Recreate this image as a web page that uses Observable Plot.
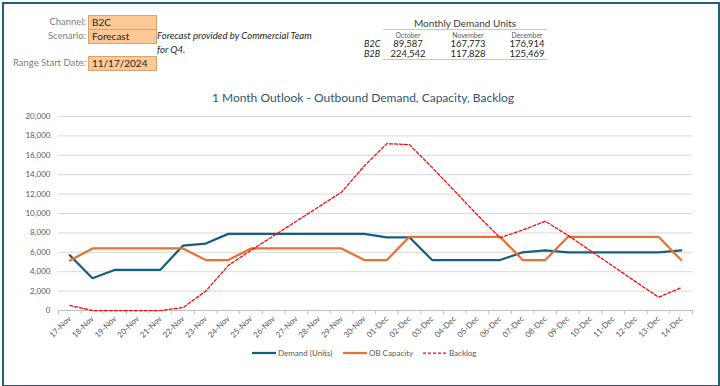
<!DOCTYPE html>
<html><head><meta charset="utf-8">
<script src="https://cdn.jsdelivr.net/npm/d3@7"></script>
<script src="https://cdn.jsdelivr.net/npm/@observablehq/plot@0.6"></script>
<style>
body{margin:0;background:#fff;}
#wrap{position:relative;width:720px;height:386px;overflow:hidden;font-family:"Lato",sans-serif;}
.abs{position:absolute;white-space:nowrap;}
#frame{position:absolute;left:2px;top:2px;width:714px;height:381px;border:2px solid #1f5f7a;box-sizing:content-box;}
#chart{position:absolute;left:0;top:110px;}
</style></head><body><div id="wrap"><div id="frame"></div></div>
<script>
// ---- data ----
const fieldLabels = ["Channel:", "Scenario:", "Range Start Date:"];
const fieldValues = ["B2C", "Forecast", "11/17/2024"];
const note = ["Forecast provided by Commercial Team", "for Q4."];
const tableTitle = "Monthly Demand Units";
const months = ["October", "November", "December"];
const channels = ["B2C", "B2B"];
const b2cMonthly = [89587, 167773, 176914];
const b2bMonthly = [224542, 117828, 125469];
const chartTitle = "1 Month Outlook - Outbound Demand, Capacity, Backlog";
const dates = ["17-Nov","18-Nov","19-Nov","20-Nov","21-Nov","22-Nov","23-Nov","24-Nov","25-Nov","26-Nov","27-Nov","28-Nov","29-Nov","30-Nov",
  "01-Dec","02-Dec","03-Dec","04-Dec","05-Dec","06-Dec","07-Dec","08-Dec","09-Dec","10-Dec","11-Dec","12-Dec","13-Dec","14-Dec"];
const demand = [5700,3330,4200,4200,4200,6700,6900,7900,7900,7900,7900,7900,7900,7900,
  7550,7550,5200,5200,5200,5200,6000,6200,6000,6000,6000,6000,6000,6200];
const capacity = [5150,6400,6400,6400,6400,6400,5200,5200,6400,6400,6400,6400,6400,5200,
  5200,7600,7600,7600,7600,7600,5200,5200,7600,7600,7600,7600,7600,5200];
const backlog = [520,0,0,0,0,300,2000,4650,6200,7700,9200,10700,12200,14900,
  17200,17100,14750,12300,9850,7500,8300,9200,7750,6150,4550,2950,1370,2350];
const yTicks = [0,2000,4000,6000,8000,10000,12000,14000,16000,18000,20000];
const seriesNames = ["Demand (Units)", "OB Capacity", "Backlog"];
const seriesColors = ["#156082", "#E97132", "#FF0000"];

const FONT = '"Lato",sans-serif';
const wrap = document.getElementById("wrap");
function place(text, css) {
  const d = document.createElement("div");
  d.className = "abs";
  d.textContent = text;
  Object.assign(d.style, css);
  wrap.appendChild(d);
  return d;
}
const fmt = d3.format(",");

// ---- header fields ----
const boxTops = [15, 29, 55.5];
fieldLabels.forEach((lab, i) => {
  place(lab, {right: (720 - 86) + "px", top: boxTops[i] + "px", height: "14px", lineHeight: "14px", fontSize: "9.5px", color: "#808080", textAlign: "right"});
  place(fieldValues[i], {left: "88px", top: boxTops[i] + "px", width: "64px", height: "13px", lineHeight: "13px", fontSize: "10px", color: "#262626",
    background: "#fcc896", border: "1px solid #dca26c", paddingLeft: "3px", boxSizing: "content-box"});
});
note.forEach((t, i) => place(t, {left: "157px", top: (29 + i * 13.5) + "px", lineHeight: "13px", fontSize: "9.6px", fontStyle: "italic", color: "#262626"}));

// ---- monthly table ----
place(tableTitle, {left: "383px", width: "164px", top: "15.5px", lineHeight: "14px", fontSize: "10px", color: "#404040", textAlign: "center"});
place("", {left: "383px", width: "164px", top: "29px", height: "0", borderTop: "1px solid #c8c8c8"});
place("", {left: "383px", width: "164px", top: "59px", height: "0", borderTop: "1px solid #c8c8c8"});
const colX = [408, 468, 527];
months.forEach((m, j) => place(m, {left: (colX[j] - 30) + "px", width: "60px", top: "30.5px", lineHeight: "8px", fontSize: "6.8px", color: "#595959", textAlign: "center"}));
[b2cMonthly, b2bMonthly].forEach((row, r) => {
  const top = 38.5 + r * 10.4;
  place(channels[r], {left: "364px", top: top + "px", lineHeight: "10px", fontSize: "9px", fontStyle: "italic", color: "#262626"});
  row.forEach((v, j) => place(fmt(v), {left: (colX[j] - 30) + "px", width: "60px", top: top + "px", lineHeight: "10px", fontSize: "9.5px", color: "#262626", textAlign: "center"}));
});

// ---- title ----
place(chartTitle, {left: "0px", width: "726px", top: "90px", lineHeight: "16px", fontSize: "12px", color: "#2f5576", textAlign: "center"});

// ---- chart ----
const rows = dates.map((d, i) => ({i, date: d, demand: demand[i], capacity: capacity[i], backlog: backlog[i]}));
const idx = dates.map((d, i) => i);
const bounds = [-0.5, ...idx.map(i => i + 0.5)];
const chart = Plot.plot({
  width: 720, height: 240, marginTop: 6, marginBottom: 40, marginLeft: 58, marginRight: 28,
  style: {fontFamily: FONT, fontSize: "8px", color: "#595959", background: "transparent", overflow: "visible"},
  x: {type: "linear", domain: [-0.5, dates.length - 0.5], axis: null, label: null},
  y: {domain: [0, 20000], axis: null, label: null},
  marks: [
    Plot.gridY(yTicks, {stroke: "#d9d9d9", strokeOpacity: 1}),
    Plot.axisY(yTicks, {tickSize: 0, tickPadding: 8, tickFormat: fmt, fill: "#595959", fontSize: 8, label: null}),
    Plot.ruleY([0], {stroke: "#bfbfbf"}),
    Plot.axisX(bounds, {tickSize: 4, tickFormat: () => "", stroke: "#bfbfbf", strokeOpacity: 1, label: null}),
    Plot.axisX(idx, {tickSize: 0, tickRotate: -45, tickPadding: 7, tickFormat: i => dates[i], fill: "#595959", fontSize: 8, label: null}),
    Plot.line(rows, {x: "i", y: "demand", stroke: seriesColors[0], strokeWidth: 2.25}),
    Plot.line(rows, {x: "i", y: "capacity", stroke: seriesColors[1], strokeWidth: 2.25}),
    Plot.line(rows, {x: "i", y: "backlog", stroke: seriesColors[2], strokeWidth: 1.25, strokeDasharray: "3,2"})
  ]
});
chart.id = "chart";
wrap.appendChild(chart);

// ---- legend ----
const legX = [252, 343, 423];
seriesNames.forEach((name, k) => {
  const sw = document.createElementNS("http://www.w3.org/2000/svg", "svg");
  sw.setAttribute("width", 24); sw.setAttribute("height", 6);
  sw.style.position = "absolute"; sw.style.left = legX[k] + "px"; sw.style.top = "350px";
  const ln = document.createElementNS("http://www.w3.org/2000/svg", "line");
  ln.setAttribute("x1", 0); ln.setAttribute("x2", 24); ln.setAttribute("y1", 3); ln.setAttribute("y2", 3);
  ln.setAttribute("stroke", seriesColors[k]);
  ln.setAttribute("stroke-width", k === 2 ? 1.25 : 2.25);
  if (k === 2) ln.setAttribute("stroke-dasharray", "3,2");
  sw.appendChild(ln);
  wrap.appendChild(sw);
  place(name, {left: (legX[k] + 26) + "px", top: "347px", lineHeight: "12px", fontSize: "8px", color: "#595959"});
});
</script></body></html>
